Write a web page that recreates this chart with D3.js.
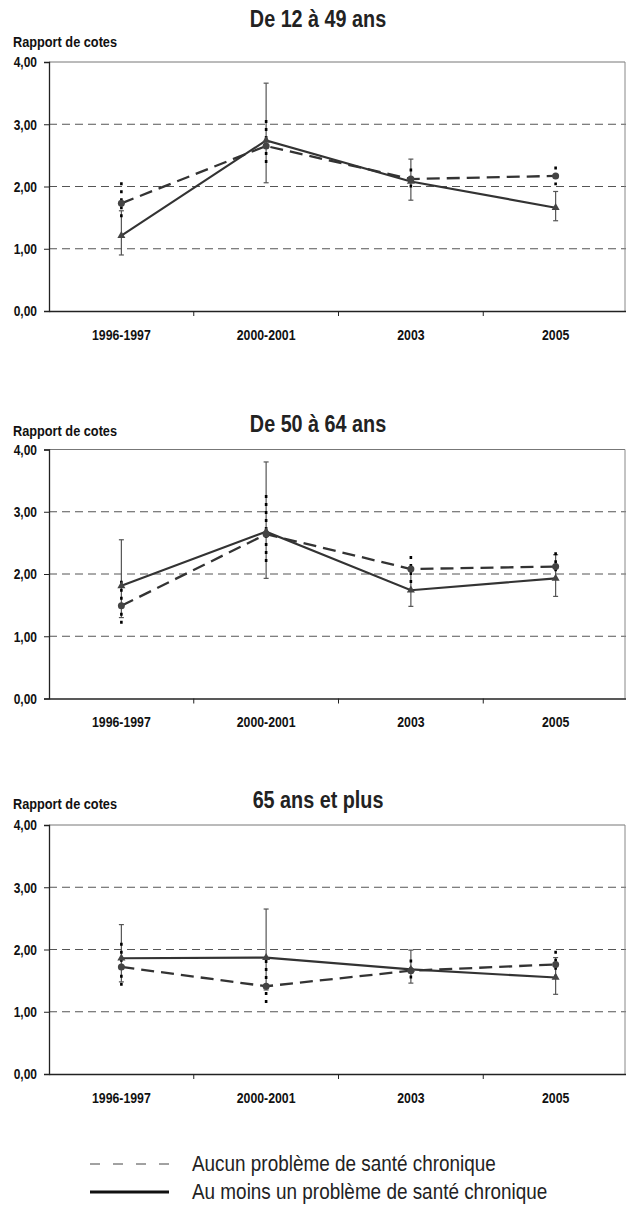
<!DOCTYPE html>
<html><head><meta charset="utf-8">
<script src="https://cdn.jsdelivr.net/npm/d3@7"></script>
<style>
html,body{margin:0;padding:0;background:#fff;}
svg{display:block;}
</style></head>
<body>
<svg id="chart" width="626" height="1216"></svg>
<script>
const categories = ["1996-1997", "2000-2001", "2003", "2005"];
const panelTitles = ["De 12 à 49 ans", "De 50 à 64 ans", "65 ans et plus"];
const yAxisTitle = "Rapport de cotes";
const yTicks = [0, 1, 2, 3, 4];
const seriesNames = ["Aucun problème de santé chronique", "Au moins un problème de santé chronique"];

// Panel 1 : De 12 à 49 ans
const aucun1 = [1.73, 2.65, 2.12, 2.17];
const aucunLow1 = [1.45, 2.32, 1.96, 2.02];
const aucunHigh1 = [2.07, 3.07, 2.29, 2.32];
const auMoins1 = [1.21, 2.74, 2.08, 1.66];
const auMoinsLow1 = [0.90, 2.06, 1.78, 1.45];
const auMoinsHigh1 = [1.61, 3.66, 2.44, 1.92];

// Panel 2 : De 50 à 64 ans
const aucun2 = [1.49, 2.64, 2.08, 2.12];
const aucunLow2 = [1.18, 2.16, 1.85, 1.96];
const aucunHigh2 = [1.89, 3.27, 2.29, 2.35];
const auMoins2 = [1.81, 2.68, 1.74, 1.93];
const auMoinsLow2 = [1.30, 1.93, 1.48, 1.64];
const auMoinsHigh2 = [2.55, 3.80, 2.07, 2.31];

// Panel 3 : 65 ans et plus
const aucun3 = [1.72, 1.41, 1.66, 1.76];
const aucunLow3 = [1.39, 1.06, 1.48, 1.55];
const aucunHigh3 = [2.11, 1.83, 1.84, 1.98];
const auMoins3 = [1.86, 1.87, 1.68, 1.55];
const auMoinsLow3 = [1.48, 1.35, 1.46, 1.28];
const auMoinsHigh3 = [2.40, 2.65, 1.99, 1.87];

const panels = [
  {title: panelTitles[0], top: 62, titleDy: -35, axisDy: -15,
   aucun: aucun1, aucunLow: aucunLow1, aucunHigh: aucunHigh1,
   auMoins: auMoins1, auMoinsLow: auMoinsLow1, auMoinsHigh: auMoinsHigh1},
  {title: panelTitles[1], top: 449.5, titleDy: -18, axisDy: -14,
   aucun: aucun2, aucunLow: aucunLow2, aucunHigh: aucunHigh2,
   auMoins: auMoins2, auMoinsLow: auMoinsLow2, auMoinsHigh: auMoinsHigh2},
  {title: panelTitles[2], top: 825, titleDy: -17, axisDy: -16,
   aucun: aucun3, aucunLow: aucunLow3, aucunHigh: aucunHigh3,
   auMoins: auMoins3, auMoinsLow: auMoinsLow3, auMoinsHigh: auMoinsHigh3}
];

const FONT = "'Liberation Sans',Arial,sans-serif";
const NARROW = 0.83;
const svg = d3.select("#chart");
const left = 49, right = 628, plotH = 249;
const ink = "#333";

const x = d3.scaleBand().domain(categories).range([left, right]).padding(0);
const cx = c => x(c) + x.bandwidth() / 2;

function narrowText(parent, tx, ty, str, size, weight, anchor, fill, sx) {
  const g = parent.append("g").attr("transform", `translate(${tx},${ty}) scale(${sx || NARROW},1)`);
  g.append("text").attr("x", 0).attr("y", 0).attr("text-anchor", anchor || "start")
    .attr("font-family", FONT).attr("font-weight", weight || "normal")
    .attr("font-size", size).attr("fill", fill || "#111").text(str);
  return g;
}

panels.forEach(p => {
  const g = svg.append("g");
  const y = d3.scaleLinear().domain([0, 4]).range([p.top + plotH, p.top]);

  // titles
  narrowText(g, 318, p.top + p.titleDy, p.title, 23, "bold", "middle", "#222", 0.86);
  narrowText(g, 13, p.top + p.axisDy, yAxisTitle, 15, "bold", "start", "#111", 0.85);

  // gridlines (dashed) for 1..3
  g.selectAll("line.grid").data(yTicks.filter(t => t > 0 && t < 4)).enter()
    .append("line").attr("x1", left).attr("x2", 626)
    .attr("y1", d => y(d)).attr("y2", d => y(d))
    .attr("stroke", "#555").attr("stroke-width", 1).attr("stroke-dasharray", "8,5");
  // top border and right border
  g.append("line").attr("x1", left).attr("x2", 625).attr("y1", y(4)).attr("y2", y(4))
    .attr("stroke", "#777").attr("stroke-width", 1);
  g.append("line").attr("x1", 625).attr("x2", 625).attr("y1", y(4)).attr("y2", y(0))
    .attr("stroke", "#888").attr("stroke-width", 1);

  // y axis
  const yAxis = d3.axisLeft(y).tickValues(yTicks).tickSize(5).tickPadding(6)
    .tickFormat(d => d3.format(".2f")(d).replace(".", ","));
  const ya = g.append("g").attr("transform", `translate(${left},0)`).call(yAxis);
  ya.select(".domain").attr("stroke", "#222").attr("stroke-width", 1.3);
  ya.selectAll(".tick line").attr("stroke", "#222");
  ya.selectAll("text").attr("font-family", FONT).attr("font-weight", "bold")
    .attr("font-size", 15).attr("fill", "#111")
    .attr("x", -12 / 0.8).attr("transform", "scale(0.8,1)");

  // x axis
  const xAxis = d3.axisBottom(x).tickSize(0).tickPadding(18);
  const xa = g.append("g").attr("transform", `translate(0,${y(0)})`).call(xAxis);
  xa.select(".domain").attr("stroke", "#222").attr("stroke-width", 1.5);
  xa.selectAll("text").attr("font-family", FONT).attr("font-weight", "bold")
    .attr("font-size", 15).attr("fill", "#111").attr("transform", "scale(0.82,1)");
  // boundary ticks
  const bounds = categories.map(c => x(c)).concat([right]).slice(1);
  xa.selectAll("line.bt").data(bounds).enter().append("line")
    .attr("x1", d => d).attr("x2", d => d).attr("y1", 0).attr("y2", 5)
    .attr("stroke", "#222").attr("stroke-width", 1);

  // error bars, Au moins (solid, gray with caps)
  categories.forEach((c, i) => {
    const xx = cx(c);
    g.append("line").attr("x1", xx).attr("x2", xx)
      .attr("y1", y(p.auMoinsLow[i])).attr("y2", y(p.auMoinsHigh[i]))
      .attr("stroke", "#555").attr("stroke-width", 1.2);
    [p.auMoinsLow[i], p.auMoinsHigh[i]].forEach(v => {
      g.append("line").attr("x1", xx - 2.5).attr("x2", xx + 2.5)
        .attr("y1", y(v)).attr("y2", y(v)).attr("stroke", "#555").attr("stroke-width", 1.2);
    });
  });
  // error bars, Aucun (black dotted)
  categories.forEach((c, i) => {
    const xx = cx(c);
    g.append("line").attr("x1", xx).attr("x2", xx)
      .attr("y1", y(p.aucunHigh[i])).attr("y2", y(p.aucunLow[i]))
      .attr("stroke", "#000").attr("stroke-width", 2.6).attr("stroke-dasharray", "3,5");
  });

  const line = d3.line().x((d, i) => cx(categories[i])).y(d => y(d));
  g.append("path").datum(p.aucun).attr("d", line).attr("fill", "none")
    .attr("stroke", ink).attr("stroke-width", 2.3).attr("stroke-dasharray", "13,7");
  g.append("path").datum(p.auMoins).attr("d", line).attr("fill", "none")
    .attr("stroke", ink).attr("stroke-width", 2.1);

  // markers
  g.selectAll("circle.m").data(p.aucun).enter().append("circle")
    .attr("cx", (d, i) => cx(categories[i])).attr("cy", d => y(d)).attr("r", 3.5)
    .attr("fill", "#444");
  g.selectAll("path.tri").data(p.auMoins).enter().append("path")
    .attr("d", d3.symbol().type(d3.symbolTriangle).size(28))
    .attr("transform", (d, i) => `translate(${cx(categories[i])},${y(d)})`)
    .attr("fill", "#444");
});

// legend
const lg = svg.append("g");
const legY = [1164, 1192];
lg.append("line").attr("x1", 90).attr("x2", 170).attr("y1", legY[0]).attr("y2", legY[0])
  .attr("stroke", "#444").attr("stroke-width", 1).attr("stroke-dasharray", "10,13");
lg.append("line").attr("x1", 90).attr("x2", 169).attr("y1", legY[1]).attr("y2", legY[1])
  .attr("stroke", "#111").attr("stroke-width", 3);
seriesNames.forEach((s, i) => narrowText(lg, 192, legY[i] + 7, s, 22, "normal", "start", "#222", 0.86));
</script>
</body></html>
